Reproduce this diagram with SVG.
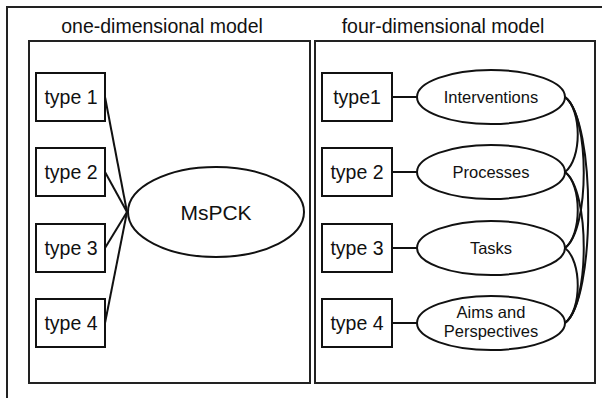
<svg xmlns="http://www.w3.org/2000/svg" width="602" height="398" viewBox="0 0 602 398">
<style>
.frame{fill:none;stroke:#222;stroke-width:2}
.box{fill:#fff;stroke:#111;stroke-width:2}
.ell{fill:#fff;stroke:#111;stroke-width:2}
.ln{fill:none;stroke:#111;stroke-width:2}
.t{font-family:"Liberation Sans",Arial,sans-serif;fill:#111;text-anchor:middle}
.title{font-size:19.5px}
.lbl{font-size:19.5px}
.el{font-size:16.5px}
</style>
<rect width="602" height="398" fill="#fff"/>
<rect class="frame" x="7" y="7" width="620" height="420"/>
<g id="panel-left">
<rect class="frame" x="29" y="41" width="281" height="342"/>
<text class="t title" x="162" y="33">one-dimensional model</text>
</g>
<g id="panel-right">
<rect class="frame" x="315" y="41" width="280" height="342"/>
<text class="t title" x="443" y="33">four-dimensional model</text>
</g>
<g id="connectors">
<line class="ln" x1="105" y1="97" x2="127" y2="212"/>
<line class="ln" x1="105" y1="172" x2="127" y2="212"/>
<line class="ln" x1="105" y1="248" x2="127" y2="212"/>
<line class="ln" x1="105" y1="323" x2="127" y2="212"/>
<line class="ln" x1="392" y1="97" x2="417" y2="97"/>
<line class="ln" x1="392" y1="172" x2="417" y2="172"/>
<line class="ln" x1="392" y1="248" x2="417" y2="248"/>
<line class="ln" x1="392" y1="323" x2="417" y2="323"/>
<path class="ln" d="M565 97 C582 110 582 159 565 172"/>
<path class="ln" d="M565 97 C590 115 590 230 565 248"/>
<path class="ln" d="M565 97 C596 120 596 300 565 323"/>
<path class="ln" d="M565 172 C582 185 582 235 565 248"/>
<path class="ln" d="M565 172 C590 190 590 305 565 323"/>
<path class="ln" d="M565 248 C582 261 582 310 565 323"/>
</g>
<g id="l-type1"><rect class="box" x="36" y="73" width="69" height="48"/><text class="t lbl" x="71" y="104">type 1</text></g>
<g id="l-type2"><rect class="box" x="36" y="148" width="69" height="48"/><text class="t lbl" x="71" y="179">type 2</text></g>
<g id="l-type3"><rect class="box" x="36" y="224" width="69" height="48"/><text class="t lbl" x="71" y="255">type 3</text></g>
<g id="l-type4"><rect class="box" x="36" y="299" width="69" height="48"/><text class="t lbl" x="71" y="330">type 4</text></g>
<g id="mspck"><ellipse class="ell" cx="216" cy="212" rx="88" ry="45"/><text class="t" style="font-size:21px" x="216" y="220">MsPCK</text></g>
<g id="r-type1"><rect class="box" x="322" y="73" width="70" height="48"/><text class="t lbl" x="357" y="104">type1</text></g>
<g id="r-type2"><rect class="box" x="322" y="148" width="70" height="48"/><text class="t lbl" x="357" y="179">type 2</text></g>
<g id="r-type3"><rect class="box" x="322" y="224" width="70" height="48"/><text class="t lbl" x="357" y="255">type 3</text></g>
<g id="r-type4"><rect class="box" x="322" y="299" width="70" height="48"/><text class="t lbl" x="357" y="330">type 4</text></g>
<g id="interventions"><ellipse class="ell" cx="491" cy="97" rx="74" ry="27"/><text class="t el" x="491" y="103">Interventions</text></g>
<g id="processes"><ellipse class="ell" cx="491" cy="172" rx="74" ry="27"/><text class="t el" x="491" y="178">Processes</text></g>
<g id="tasks"><ellipse class="ell" cx="491" cy="248" rx="74" ry="27"/><text class="t el" x="491" y="254">Tasks</text></g>
<g id="aims"><ellipse class="ell" cx="491" cy="323" rx="74" ry="27"/><text class="t el" x="491" y="318">Aims and</text><text class="t el" x="491" y="337">Perspectives</text></g>
</svg>
